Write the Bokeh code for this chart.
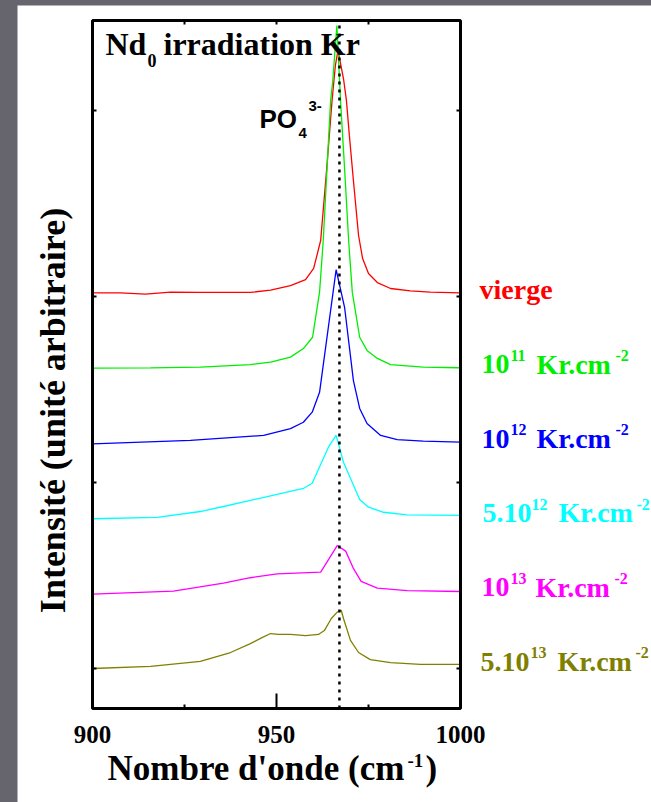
import numpy as np
from bokeh.plotting import figure
from bokeh.models import Label, FixedTicker, LinearAxis, Range1d
from bokeh.layouts import column
from bokeh.embed import file_html
from bokeh.resources import INLINE

# ---------------- data ----------------
x_ticks = [900, 950, 1000]
x_minor = [925, 975]
top_ticks = [925, 950, 975]
y_ticks = [0, 1, 2, 3]
peak_pos = 967.1

series_colors = ["#ff0000", "#00ee00", "#0000ff", "#00ffff", "#ff00ff", "#808000"]
offsets = [2.0, 1.6, 1.2, 0.8, 0.4, 0.0]

red_wn = [900.0, 907.6, 914.4, 921.2, 929.3, 942.9, 948.4, 953.8, 957.9, 960.1, 962.0,
          963.6, 965.1, 966.0, 966.7, 968.2, 969.0, 969.8, 970.9, 972.3, 973.4, 975.0,
          977.4, 981.0, 986.4, 991.8, 1000.0]
red_int = [0.019, 0.019, 0.013, 0.024, 0.022, 0.022, 0.034, 0.059, 0.091, 0.151, 0.301,
           0.677, 1.054, 1.242, 1.323, 1.172, 1.054, 0.866, 0.624, 0.328, 0.204, 0.124,
           0.075, 0.043, 0.030, 0.024, 0.019]

green_wn = [900.0, 915.8, 929.3, 942.9, 948.4, 953.8, 957.3, 959.8, 961.7, 962.7, 964.7,
            965.3, 966.4, 967.4, 968.5, 969.6, 970.6, 972.6, 974.6, 977.4, 981.0, 989.9,
            999.2, 1000.0]
green_int = [0.015, 0.016, 0.020, 0.034, 0.047, 0.074, 0.120, 0.181, 0.423, 0.701, 1.454,
             1.561, 1.857, 1.453, 1.088, 0.701, 0.422, 0.181, 0.110, 0.067, 0.034, 0.020,
             0.017, 0.016]

blue_wn = [900.0, 926.6, 946.5, 953.8, 957.3, 959.7, 961.7, 966.2, 968.5, 970.9, 972.6,
           974.6, 978.3, 982.8, 989.9, 1000.0]
blue_int = [0.008, 0.026, 0.053, 0.090, 0.124, 0.178, 0.285, 0.944, 0.742, 0.348, 0.198,
            0.117, 0.053, 0.031, 0.022, 0.017]

cyan_wn = [900.0, 917.6, 929.3, 935.6, 944.8, 957.3, 959.7, 964.1, 966.2, 968.2, 972.6,
           975.0, 979.1, 985.5, 1000.0]
cyan_int = [0.005, 0.013, 0.044, 0.071, 0.112, 0.168, 0.196, 0.390, 0.453, 0.309, 0.109,
            0.067, 0.040, 0.026, 0.023]

magenta_wn = [900.0, 922.0, 935.6, 942.9, 950.2, 962.0, 966.5, 968.8, 970.9, 973.0, 977.4,
              985.5, 1000.0]
magenta_int = [0.000, 0.016, 0.059, 0.088, 0.109, 0.118, 0.261, 0.231, 0.138, 0.068, 0.032,
               0.019, 0.014]

olive_wn = [900.0, 915.8, 929.3, 937.5, 942.9, 946.2, 948.4, 950.5, 953.8, 957.9, 961.4,
            963.0, 964.9, 966.5, 967.6, 968.2, 970.1, 972.3, 975.5, 981.0, 989.1, 1000.0]
olive_int = [0.000, 0.011, 0.038, 0.086, 0.134, 0.167, 0.188, 0.183, 0.183, 0.177, 0.183,
             0.204, 0.269, 0.303, 0.312, 0.269, 0.151, 0.086, 0.048, 0.032, 0.022, 0.022]

spectra = [(red_wn, red_int), (green_wn, green_int), (blue_wn, blue_int),
           (cyan_wn, cyan_int), (magenta_wn, magenta_int), (olive_wn, olive_int)]

# series label texts: (base, exponent) pieces
label_parts = [
    [("vierge", "")],
    [("10", "11"), ("Kr.cm", "-2")],
    [("10", "12"), ("Kr.cm", "-2")],
    [("5.10", "12"), ("Kr.cm", "-2")],
    [("10", "13"), ("Kr.cm", "-2")],
    [("5.10", "13"), ("Kr.cm", "-2")],
]
x_title_parts = ["Nombre d'onde (cm", "-1", ")"]
y_title = "Intensité (unité arbitraire)"

# ---------------- page geometry (pixels) ----------------
W, H = 651, 802
PAD_L, PAD_T = 17, 5                  # grey strips of the slide
FL, FR, FT, FB = 92, 460, 20, 708     # plot box on the page
PX_PER_UNIT = 186.0
Y_ZERO = 668                          # page y of intensity 0 (lowest curve)
X0, X1 = 900, 1000
SX = (FR - FL) / (X1 - X0)
BASE_SHIFT = 0.35                     # label anchor sits this many em above the baseline


def dx(X):
    return X0 + (X - FL) / SX


def dy(Y):
    return (Y_ZERO - Y) / PX_PER_UNIT


YB, YT = dy(FB), dy(FT)               # bottom / top of the plot box in data units

SERIF = "Liberation Serif"
SANS = "Liberation Sans"

# the frame covers the whole white page; the plot box is drawn inside it
p = figure(frame_width=W - PAD_L, frame_height=H - PAD_T,
           x_range=Range1d(dx(PAD_L), dx(W)), y_range=Range1d(dy(H), dy(PAD_T)),
           output_backend="svg", toolbar_location=None, min_border=0)
p.margin = (PAD_T, 0, 0, PAD_L)
p.grid.visible = False
p.outline_line_color = None
p.background_fill_color = "white"
p.border_fill_color = "white"

# bottom axis (labelled), fixed on the bottom edge of the box
xa = p.xaxis[0]
xa.fixed_location = YB
xa.ticker = FixedTicker(ticks=x_ticks, minor_ticks=x_minor)
xa.axis_line_color = None
xa.major_tick_in = 15
xa.major_tick_out = 0
xa.minor_tick_in = 4
xa.minor_tick_out = 0
xa.major_tick_line_width = 2
xa.minor_tick_line_width = 2
xa.major_label_text_font = SERIF
xa.major_label_text_font_style = "bold"
xa.major_label_text_font_size = "25px"
xa.major_label_text_color = "black"
xa.major_label_standoff = 17

ta = LinearAxis(fixed_location=YT,
                ticker=FixedTicker(ticks=[], minor_ticks=top_ticks),
                axis_line_color=None, major_tick_in=0, major_tick_out=0,
                minor_tick_in=4, minor_tick_out=0, minor_tick_line_width=2)
p.add_layout(ta, "above")

ya = p.yaxis[0]
ya.fixed_location = X0
ya.ticker = FixedTicker(ticks=[], minor_ticks=y_ticks)
ya.axis_line_color = None
ya.major_tick_in = 0
ya.major_tick_out = 0
ya.minor_tick_in = 4
ya.minor_tick_out = 0
ya.minor_tick_line_width = 2
ra = LinearAxis(fixed_location=X1,
                ticker=FixedTicker(ticks=[], minor_ticks=y_ticks),
                axis_line_color=None, major_tick_in=0, major_tick_out=0,
                minor_tick_in=4, minor_tick_out=0, minor_tick_line_width=2)
p.add_layout(ra, "right")

# spectra
for (wn, inten), off, col in zip(spectra, offsets, series_colors):
    p.line(wn, [v + off for v in inten], line_color=col, line_width=1.3)

# dotted reference line and plot box
p.segment(x0=[peak_pos], y0=[YB], x1=[peak_pos], y1=[YT],
          line_color="black", line_width=2.5, line_dash="3 5")
p.quad(left=[X0], right=[X1], bottom=[YB], top=[YT],
       fill_color=None, line_color="black", line_width=3)


def put(text, x, y, size, color="black", font=SERIF, style="bold", yoff=0):
    p.add_layout(Label(x=x, y=y, y_offset=yoff + BASE_SHIFT * size, text=text,
                       text_font=font, text_font_style=style,
                       text_font_size=f"{size}px", text_color=color,
                       text_baseline="alphabetic", text_align="left"))

# title and band annotation
put("Nd", dx(105), dy(55), 32)
put("0", dx(147), dy(66), 18)
put("irradiation Kr", dx(163), dy(55), 32)
put("PO", dx(259), dy(128), 26, font=SANS)
put("4", dx(298), dy(138), 15, font=SANS)
put("3-", dx(308), dy(111), 15, font=SANS)

# series labels, aligned with each curve's baseline
label_x = [
    [(479, 0)],
    [(481, 510), (536, 615)],
    [(481, 510), (536, 615)],
    [(482, 531), (558, 636)],
    [(481, 510), (535, 614)],
    [(480, 530), (557, 635)],
]
for parts, xs, off, col in zip(label_parts, label_x, offsets, series_colors):
    for (base, exp), (xb, xe) in zip(parts, xs):
        put(base, dx(xb), off, 28, color=col, yoff=-3)
        if exp:
            put(exp, dx(xe), off, 16, color=col, yoff=10)

# axis titles
put(x_title_parts[0], dx(107), dy(780), 35)
put(x_title_parts[1], dx(407), dy(767), 19)
put(x_title_parts[2], dx(425), dy(780), 35)
YT_SIZE = 36
p.add_layout(Label(x=dx(65 - BASE_SHIFT * YT_SIZE), y=dy(410), text=y_title,
                   text_font=SERIF, text_font_style="bold",
                   text_font_size=f"{YT_SIZE}px", text_color="black",
                   text_baseline="alphabetic", text_align="center",
                   angle=np.pi / 2))

layout = column(p, styles={"background-color": "#66656d"})
open("out.html", "w").write(file_html(layout, INLINE))
